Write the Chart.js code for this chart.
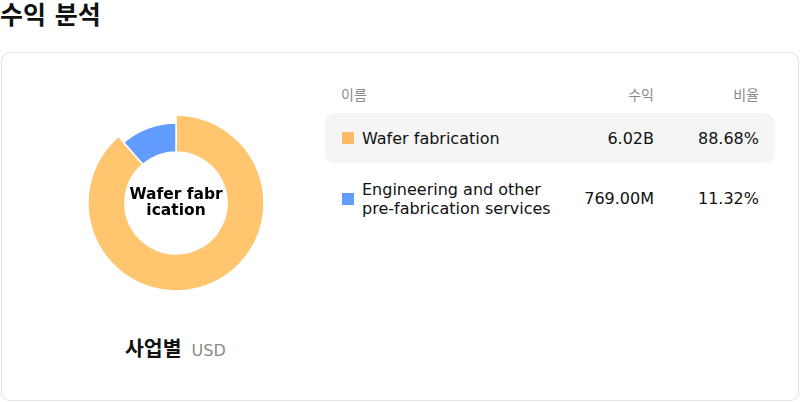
<!DOCTYPE html>
<html>
<head>
<meta charset="utf-8">
<script src="https://cdn.jsdelivr.net/npm/chart.js@4"></script>
<style>
  html, body { margin: 0; padding: 0; background: #fff; }
  body { width: 800px; height: 402px; position: relative; overflow: hidden;
         font-family: "DejaVu Sans", "Noto Sans CJK KR", sans-serif; color: #111; }
  h1 { position: absolute; left: 0; top: 0; margin: 0; font-size: 25px; line-height: 32px; font-weight: bold; }
  .card { position: absolute; left: 1px; top: 52px; width: 796px; height: 347px;
          border: 1px solid #e2e2ea; border-radius: 9px; }
  #wrap { position: absolute; left: 54px; top: 30px; width: 240px; height: 240px; }
  .caption { position: absolute; left: 123px; top: 279px; white-space: nowrap; }
  .caption b { font-size: 20.5px; }
  .caption span { font-size: 16px; color: #8a8a8a; margin-left: 10px; }
  .hd { position: absolute; top: 31px; font-size: 14px; color: #8a8a8a; }
  .row { position: absolute; left: 323px; width: 450px; border-radius: 10px; }
  .row.on { background: #f5f5f5; }
  .sq { position: absolute; left: 17px; width: 12px; height: 12px; }
  .nm { position: absolute; left: 37px; font-size: 16px; line-height: 19.5px; }
  .val { position: absolute; font-size: 16px; text-align: right; }
</style>
</head>
<body>
<h1>수익 분석</h1>
<div class="card">
  <div id="wrap"><canvas id="c"></canvas></div>
  <div class="caption"><b>사업별</b><span>USD</span></div>
  <div id="table"></div>
</div>
<script>
const categories = ['Wafer fabrication', 'Engineering and other\npre-fabrication services'];
const revenue = [6.02e9, 769.0e6];
const revenueLabels = ['6.02B', '769.00M'];
const shares = ['88.68%', '11.32%'];
const colors = ['#FFC56F', '#629CFF'];
const legendColors = ['#FDBA62', '#629CFF'];
const centerLabel = ['Wafer fabr', 'ication'];
const activeIndex = 0;

// table on the right
const table = document.getElementById('table');
const heads = [['이름', 339, 'left'], ['수익', 652, 'right'], ['비율', 757, 'right']];
heads.forEach(h => {
  const d = document.createElement('div');
  d.className = 'hd';
  d.textContent = h[0];
  if (h[2] === 'left') d.style.left = h[1] + 'px';
  else d.style.right = (796 - h[1]) + 'px';
  table.appendChild(d);
});
const rowTops = [60, 121];
categories.forEach((name, i) => {
  const row = document.createElement('div');
  row.className = 'row' + (i === activeIndex ? ' on' : '');
  row.style.top = rowTops[i] + 'px';
  row.style.height = '50px';
  const lines = name.split('\n');
  const nameTop = (lines.length === 1 ? 26 : 25) - lines.length * 19.5 / 2;
  const valTop = lines.length === 1 ? 16 : 15;
  row.innerHTML =
    '<div class="sq" style="top:19px;background:' + legendColors[i] + '"></div>' +
    '<div class="nm" style="top:' + nameTop + 'px">' + lines.join('<br>') + '</div>' +
    '<div class="val" style="right:121px;top:' + valTop + 'px">' + revenueLabels[i] + '</div>' +
    '<div class="val" style="right:16px;top:' + valTop + 'px">' + shares[i] + '</div>';
  table.appendChild(row);
});

// active slice drawn larger, others pulled in
const emphasis = {
  id: 'emphasis',
  afterDatasetsUpdate(chart) {
    chart.getDatasetMeta(0).data.forEach((arc, i) => {
      if (i !== activeIndex) arc.outerRadius = arc.outerRadius - 8;
    });
  }
};
const centerText = {
  id: 'centerText',
  afterDraw(chart) {
    const arc = chart.getDatasetMeta(0).data[0];
    const ctx = chart.ctx;
    ctx.save();
    ctx.font = 'bold 15.5px "DejaVu Sans", sans-serif';
    ctx.fillStyle = '#000';
    ctx.textAlign = 'center';
    ctx.textBaseline = 'middle';
    ctx.fillText(centerLabel[0], arc.x, arc.y - 8);
    ctx.fillText(centerLabel[1], arc.x, arc.y + 8);
    ctx.restore();
  }
};

new Chart(document.getElementById('c'), {
  type: 'doughnut',
  data: {
    labels: categories,
    datasets: [{
      data: revenue,
      backgroundColor: colors,
      borderColor: '#fff',
      borderWidth: 1.5,
      hoverOffset: 0
    }]
  },
  options: {
    responsive: true,
    maintainAspectRatio: false,
    animation: false,
    events: [],
    radius: 88,
    cutout: '58%',
    layout: { padding: 0 },
    plugins: { legend: { display: false }, tooltip: { enabled: false } }
  },
  plugins: [emphasis, centerText]
});
</script>
</body>
</html>
